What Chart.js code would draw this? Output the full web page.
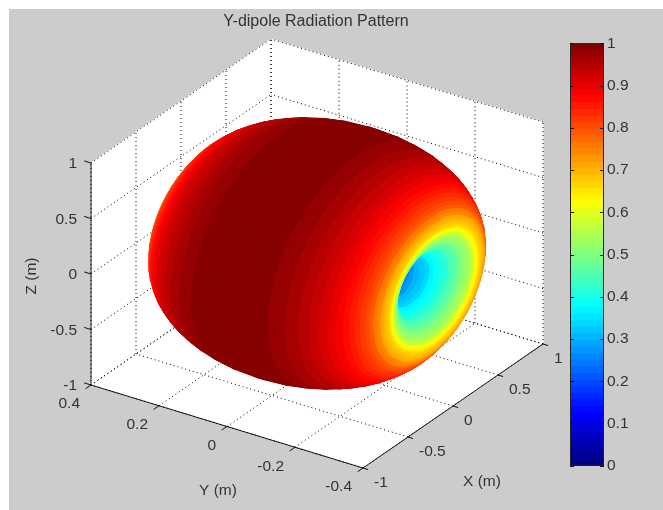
<!DOCTYPE html>
<html>
<head>
<meta charset="utf-8">
<title>Y-dipole Radiation Pattern</title>
<script src="https://cdn.jsdelivr.net/npm/chart.js@4"></script>
<style>
  html, body { margin: 0; padding: 0; background: #fff; overflow: hidden; }
  #panel { position: absolute; left: 9px; top: 9px; width: 654px; height: 501px; background: #cccccc; }
  #surface { position: absolute; left: 0; top: 0; }
  #colorbar { position: absolute; left: 570px; top: 31px; }
</style>
</head>
<body>
<div id="panel"></div>
<canvas id="surface" width="663" height="510"></canvas>
<canvas id="colorbar" width="93" height="447"></canvas>
<script>
// rings of the pattern, equator to pole (mirrored for the other side)
const ringValue = [1, 0.995, 0.985, 0.97, 0.955, 0.94, 0.925, 0.905, 0.89, 0.875, 0.86, 0.84, 0.825, 0.81, 0.79, 0.775, 0.755, 0.72, 0.705, 0.69, 0.675, 0.655, 0.625, 0.595, 0.56, 0.53, 0.51, 0.49, 0.47, 0.45, 0.43, 0.41, 0.39, 0.37, 0.35, 0.33, 0.31, 0.29, 0.27, 0.255, 0.24, 0.23, 0.22, 0.21, 0.2, 0.17, 0.14, 0.11, 0.07, 0.04];
const ringY = [0, 0.067, 0.113, 0.156, 0.187, 0.212, 0.233, 0.25, 0.265, 0.279, 0.29, 0.3, 0.309, 0.317, 0.323, 0.329, 0.334, 0.338, 0.34, 0.342, 0.343, 0.343, 0.342, 0.341, 0.339, 0.336, 0.331, 0.326, 0.321, 0.316, 0.309, 0.301, 0.293, 0.284, 0.275, 0.267, 0.257, 0.246, 0.236, 0.225, 0.214, 0.202, 0.19, 0.178, 0.166, 0.147, 0.128, 0.102, 0.069, 0.034];
const ringRadius = [1, 0.99, 0.97, 0.941, 0.912, 0.884, 0.856, 0.828, 0.801, 0.774, 0.748, 0.723, 0.697, 0.672, 0.648, 0.624, 0.601, 0.578, 0.555, 0.533, 0.511, 0.49, 0.469, 0.449, 0.423, 0.397, 0.372, 0.348, 0.325, 0.303, 0.281, 0.26, 0.24, 0.221, 0.203, 0.185, 0.168, 0.152, 0.137, 0.123, 0.109, 0.096, 0.084, 0.073, 0.063, 0.048, 0.036, 0.023, 0.01, 0.003];

const xTicks = [-1, -0.5, 0, 0.5, 1];
const yTicks = [0.4, 0.2, 0, -0.2, -0.4];
const zTicks = [1, 0.5, 0, -0.5, -1];
const colorTicks = [0, 0.1, 0.2, 0.3, 0.4, 0.5, 0.6, 0.7, 0.8, 0.9, 1];

const ANGLE_STEPS = 60;
const TEXT = '#333';
const FONT = '15.5px "Liberation Sans"';

// box projection, metres to the hidden page scales
function project(x, y, z) {
  return { x: 317 + 90 * x - 340 * y, y: 253.5 - 62 * x - 103.75 * y - 111 * z };
}

function depth(x, y, z) {
  return -119 * x - 202 * y + 57 * z;
}

function jet(v) {
  var q = Math.min(Math.floor(v * 64), 63);
  q = (q + 0.5) / 64;
  function c(a) { return Math.round(255 * Math.max(0, Math.min(1, a))); }
  return 'rgb(' + c(Math.min(4 * q - 1.5, 4.5 - 4 * q)) + ',' +
    c(Math.min(4 * q - 0.5, 3.5 - 4 * q)) + ',' +
    c(Math.min(4 * q + 0.5, 2.5 - 4 * q)) + ')';
}

function line3d(a, b, color, dash, width) {
  return {
    data: [project(a[0], a[1], a[2]), project(b[0], b[1], b[2])],
    showLine: true, fill: false, pointRadius: 0,
    borderColor: color, borderWidth: width || 1, borderDash: dash || []
  };
}

function wall(a, b, c, d) {
  return {
    data: [a, b, c, d, a].map(function (p) { return project(p[0], p[1], p[2]); }),
    showLine: true, fill: 'shape', pointRadius: 0,
    backgroundColor: '#fff', borderColor: '#fff', borderWidth: 1
  };
}

// the surface as flat quads, nearest first because Chart.js paints the last dataset first
function surfaceQuads() {
  var rows = [];
  var i;
  for (i = ringY.length - 1; i > 0; i--) rows.push([ringY[i], ringRadius[i], ringValue[i]]);
  for (i = 0; i < ringY.length; i++) rows.push([-ringY[i], ringRadius[i], ringValue[i]]);

  var quads = [];
  for (i = 0; i < rows.length - 1; i++) {
    for (var k = 0; k < ANGLE_STEPS; k++) {
      var t0 = 2 * Math.PI * k / ANGLE_STEPS;
      var t1 = 2 * Math.PI * (k + 1) / ANGLE_STEPS;
      var r0 = rows[i], r1 = rows[i + 1];
      var pts = [
        project(r0[1] * Math.cos(t0), r0[0], r0[1] * Math.sin(t0)),
        project(r1[1] * Math.cos(t0), r1[0], r1[1] * Math.sin(t0)),
        project(r1[1] * Math.cos(t1), r1[0], r1[1] * Math.sin(t1)),
        project(r0[1] * Math.cos(t1), r0[0], r0[1] * Math.sin(t1))
      ];
      var area = 0;
      for (var n = 0; n < 4; n++) {
        var m = (n + 1) % 4;
        area += pts[n].x * pts[m].y - pts[m].x * pts[n].y;
      }
      if (area <= 0) continue;
      var mid = (t0 + t1) / 2;
      var rm = (r0[1] + r1[1]) / 2;
      var color = jet((r0[2] + r1[2]) / 2);
      quads.push({
        d: depth(rm * Math.cos(mid), (r0[0] + r1[0]) / 2, rm * Math.sin(mid)),
        set: {
          data: pts.concat([pts[0]]),
          showLine: true, fill: 'shape', pointRadius: 0,
          backgroundColor: color, borderColor: color, borderWidth: 1
        }
      });
    }
  }
  quads.sort(function (a, b) { return b.d - a.d; });
  return quads.map(function (q) { return q.set; });
}

function boxLines() {
  var grid = [];
  var dots = [1, 3];
  xTicks.forEach(function (x) {
    grid.push(line3d([x, 0.4, -1], [x, 0.4, 1], '#000', dots));
    grid.push(line3d([x, -0.4, -1], [x, 0.4, -1], '#000', dots));
  });
  yTicks.forEach(function (y) {
    grid.push(line3d([1, y, -1], [1, y, 1], '#000', dots));
    grid.push(line3d([-1, y, -1], [1, y, -1], '#000', dots));
  });
  zTicks.forEach(function (z) {
    grid.push(line3d([-1, 0.4, z], [1, 0.4, z], '#000', dots));
    grid.push(line3d([1, -0.4, z], [1, 0.4, z], '#000', dots));
  });
  return grid;
}

function axisLines() {
  var lines = [
    line3d([-1, 0.4, -1], [-1, 0.4, 1], '#111'),
    line3d([-1, 0.4, -1], [-1, -0.4, -1], '#111'),
    line3d([-1, -0.4, -1], [1, -0.4, -1], '#111')
  ];
  zTicks.forEach(function (z) { lines.push(line3d([-1, 0.4, z], [-1, 0.42, z], '#111')); });
  yTicks.forEach(function (y) { lines.push(line3d([-1, y, -1], [-1.06, y, -1], '#111')); });
  xTicks.forEach(function (x) { lines.push(line3d([x, -0.4, -1], [x, -0.415, -1], '#111')); });
  return lines;
}

const walls = [
  wall([-1, 0.4, -1], [1, 0.4, -1], [1, 0.4, 1], [-1, 0.4, 1]),
  wall([1, 0.4, -1], [1, -0.4, -1], [1, -0.4, 1], [1, 0.4, 1]),
  wall([-1, 0.4, -1], [-1, -0.4, -1], [1, -0.4, -1], [1, 0.4, -1])
];

const textPlugin = {
  id: 'boxText',
  afterDraw: function (chart) {
    var ctx = chart.ctx;
    var sx = chart.scales.x, sy = chart.scales.y;
    function put(text, p, dx, dy, align) {
      ctx.textAlign = align;
      ctx.fillText(text, sx.getPixelForValue(p.x) + dx, sy.getPixelForValue(p.y) + dy);
    }
    ctx.save();
    ctx.fillStyle = TEXT;
    ctx.font = FONT;
    ctx.textBaseline = 'middle';
    zTicks.forEach(function (z) { put(String(z), project(-1, 0.4, z), -14, 1, 'right'); });
    yTicks.forEach(function (y) { put(String(y), project(-1, y, -1), -11, 19, 'right'); });
    xTicks.forEach(function (x) { put(String(x), project(x, -0.4, -1), 11, 15, 'left'); });
    put('Y (m)', { x: 218, y: 491 }, 0, 0, 'center');
    put('X (m)', { x: 482, y: 482 }, 0, 0, 'center');
    ctx.font = '16px "Liberation Sans"';
    put('Y-dipole Radiation Pattern', { x: 316, y: 22 }, 0, 0, 'center');
    ctx.font = FONT;
    ctx.translate(sx.getPixelForValue(32), sy.getPixelForValue(276));
    ctx.rotate(-Math.PI / 2);
    ctx.textAlign = 'center';
    ctx.fillText('Z (m)', 0, 0);
    ctx.restore();
  }
};

new Chart(document.getElementById('surface'), {
  type: 'scatter',
  data: { datasets: axisLines().concat(surfaceQuads(), boxLines(), walls) },
  options: {
    responsive: false,
    animation: false,
    events: [],
    layout: { padding: 0 },
    plugins: { legend: { display: false }, tooltip: { enabled: false } },
    scales: {
      x: { type: 'linear', display: false, min: 0, max: 663 },
      y: { type: 'linear', display: false, min: 0, max: 510, reverse: true }
    }
  },
  plugins: [textPlugin]
});

// colour bar, one bar per colormap level, tallest painted first
const colorLevels = [];
for (var L = 1; L <= 64; L++) colorLevels.push(L / 64);

const barFrame = {
  id: 'barFrame',
  afterDraw: function (chart) {
    var ctx = chart.ctx, a = chart.chartArea, y = chart.scales.y;
    ctx.save();
    ctx.strokeStyle = '#222';
    ctx.lineWidth = 1;
    ctx.strokeRect(a.left + 0.5, a.top + 0.5, a.right - a.left - 1, a.bottom - a.top - 1);
    ctx.strokeStyle = '#111';
    colorTicks.forEach(function (t) {
      var py = Math.round(y.getPixelForValue(t)) + 0.5;
      ctx.beginPath();
      ctx.moveTo(a.left, py); ctx.lineTo(a.left + 4, py);
      ctx.moveTo(a.right - 4, py); ctx.lineTo(a.right, py);
      ctx.stroke();
    });
    ctx.restore();
  }
};

new Chart(document.getElementById('colorbar'), {
  type: 'bar',
  data: {
    labels: [''],
    datasets: colorLevels.map(function (top) {
      return { data: [top], backgroundColor: jet(top - 1 / 128), borderWidth: 0, barPercentage: 1, categoryPercentage: 1 };
    })
  },
  options: {
    responsive: false,
    animation: false,
    events: [],
    layout: { padding: { top: 10, bottom: 9, left: 0, right: 0 } },
    plugins: { legend: { display: false }, tooltip: { enabled: false } },
    scales: {
      x: { display: false, stacked: true },
      y: {
        position: 'right', min: 0, max: 1, stacked: false,
        afterFit: function (s) { s.width = 59; },
        afterBuildTicks: function (s) { s.ticks = colorTicks.map(function (v) { return { value: v }; }); },
        grid: { drawOnChartArea: false, drawTicks: false },
        border: { display: false },
        ticks: {
          color: TEXT, padding: 3, font: { family: 'Liberation Sans', size: 15.5 },
          callback: function (v) { return String(v); }
        }
      }
    }
  },
  plugins: [barFrame]
});
</script>
</body>
</html>
